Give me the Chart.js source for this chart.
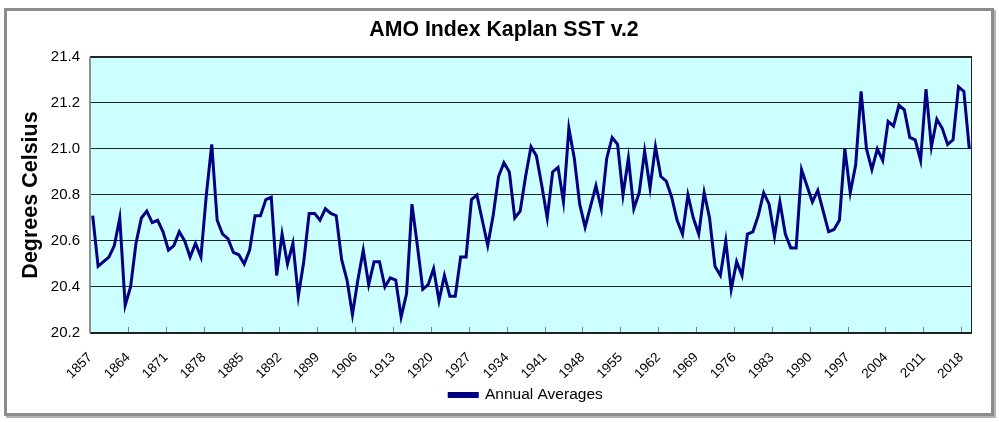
<!DOCTYPE html>
<html>
<head>
<meta charset="utf-8">
<title>AMO Index Kaplan SST v.2</title>
<script src="https://cdn.jsdelivr.net/npm/chart.js@4.4.1/dist/chart.umd.min.js"></script>
<style>
  html, body { margin: 0; padding: 0; background: #fff; }
  #frame {
    position: absolute; left: 4px; top: 8px; width: 984px; height: 402px;
    border: 3px solid #8c8c8c; box-shadow: 2px 2px 0 #b4b4b4; background: #fff;
  }
  #amoCanvas { position: absolute; left: 0; top: 0; }
</style>
</head>
<body>
<div id="frame"></div>
<canvas id="amoCanvas" width="999" height="422"></canvas>
<script>
// Annual averages, one value per year starting 1857
const firstYear = 1857;
const amoAnnual = [
  20.71, 20.49, 20.51, 20.53, 20.58, 20.70, 20.32, 20.40, 20.59, 20.70,
  20.73, 20.68, 20.69, 20.64, 20.56, 20.58, 20.64, 20.60, 20.53, 20.59,
  20.53, 20.80, 21.02, 20.69, 20.63, 20.61, 20.55, 20.54, 20.50, 20.56,
  20.71, 20.71, 20.78, 20.79, 20.45, 20.63, 20.50, 20.59, 20.36, 20.51,
  20.72, 20.72, 20.69, 20.74, 20.72, 20.71, 20.52, 20.43, 20.28, 20.43,
  20.56, 20.41, 20.51, 20.51, 20.40, 20.44, 20.43, 20.27, 20.37, 20.76,
  20.58, 20.39, 20.41, 20.48, 20.34, 20.45, 20.36, 20.36, 20.53, 20.53,
  20.78, 20.80, 20.69, 20.58, 20.71, 20.88, 20.94, 20.90, 20.70, 20.73,
  20.88, 21.01, 20.97, 20.84, 20.70, 20.90, 20.92, 20.77, 21.09, 20.96,
  20.76, 20.66, 20.75, 20.84, 20.74, 20.96, 21.05, 21.02, 20.80, 20.96,
  20.74, 20.81, 20.99, 20.83, 21.01, 20.88, 20.86, 20.79, 20.69, 20.63,
  20.80, 20.70, 20.63, 20.81, 20.70, 20.49, 20.45, 20.60, 20.39, 20.51,
  20.45, 20.63, 20.64, 20.71, 20.81, 20.76, 20.62, 20.77, 20.63, 20.57,
  20.57, 20.91, 20.84, 20.77, 20.82, 20.73, 20.64, 20.65, 20.69, 21.00,
  20.81, 20.93, 21.25, 21.00, 20.91, 21.00, 20.95, 21.12, 21.10, 21.19,
  21.17, 21.05, 21.04, 20.95, 21.26, 21.01, 21.13, 21.09, 21.02, 21.04,
  21.27, 21.25, 21.00
];
const years = amoAnnual.map((v, i) => String(firstYear + i));
const yTicks = [20.2, 20.4, 20.6, 20.8, 21.0, 21.2, 21.4];
const labelEvery = 7;

const fontFamily = '"Liberation Sans", Arial, sans-serif';

// cyan plot background, plot border and the small inward tick marks
const plotFrame = {
  id: 'plotFrame',
  afterLayout(chart) {
    // title and legend are centred on the plot, not on the whole canvas
    const a = chart.chartArea;
    const shift = (box, centre) => {
      const dx = centre - (box.left + box.right) / 2;
      box.left += dx;
      box.right += dx;
    };
    shift(chart.titleBlock, 504);
    shift(chart.legend, (a.left + a.right) / 2 - 5);
  },
  beforeDraw(chart) {
    const a = chart.chartArea;
    const ctx = chart.ctx;
    ctx.save();
    ctx.fillStyle = '#ccffff';
    ctx.fillRect(a.left, a.top, a.right - a.left, a.bottom - a.top);
    ctx.restore();
  },
  beforeDatasetsDraw(chart) {
    const a = chart.chartArea;
    const ctx = chart.ctx;
    const x = chart.scales.x;
    const half = (x.getPixelForValue(1) - x.getPixelForValue(0)) / 2;
    ctx.save();
    ctx.strokeStyle = '#808080';
    ctx.lineWidth = 1;
    for (let i = labelEvery; i < years.length; i += labelEvery) {
      const px = Math.round(x.getPixelForValue(i) - half) + 0.5;
      ctx.beginPath();
      ctx.moveTo(px, a.bottom - 6);
      ctx.lineTo(px, a.bottom);
      ctx.stroke();
    }
    ctx.strokeStyle = '#222';
    ctx.strokeRect(a.left + 0.5, a.top + 0.5, a.right - a.left - 1, a.bottom - a.top - 1);
    ctx.strokeStyle = '#909090';
    ctx.lineWidth = 2;
    ctx.beginPath();
    ctx.moveTo(a.left, a.top);
    ctx.lineTo(a.left, a.bottom);
    ctx.stroke();
    ctx.restore();
  }
};

new Chart(document.getElementById('amoCanvas').getContext('2d'), {
  type: 'line',
  data: {
    labels: years,
    datasets: [{
      label: 'Annual Averages',
      data: amoAnnual,
      borderColor: '#000080',
      backgroundColor: '#000080',
      borderWidth: 3,
      pointRadius: 0,
      tension: 0
    }]
  },
  options: {
    responsive: false,
    animation: false,
    layout: { padding: { left: 0, right: 27, top: 0, bottom: 9.25 } },
    plugins: {
      title: {
        display: true,
        text: 'AMO Index Kaplan SST v.2',
        color: '#000',
        font: { family: fontFamily, size: 21.3, weight: 'bold' },
        padding: { top: 17.3, bottom: 14.1 }
      },
      legend: {
        position: 'bottom',
        labels: {
          color: '#000',
          font: { family: fontFamily, size: 15.5 },
          boxWidth: 28,
          boxHeight: 3,
          padding: 4
        }
      },
      tooltip: { enabled: false }
    },
    scales: {
      x: {
        type: 'category',
        offset: true,
        grid: { display: false },
        border: { display: false },
        afterFit(scale) { scale.height = 50.25; },
        ticks: {
          autoSkip: false,
          minRotation: 45,
          maxRotation: 45,
          padding: 8.5,
          labelOffset: -2.5,
          color: '#000',
          font: { family: fontFamily, size: 13.5 },
          callback(value, index) {
            return index % labelEvery === 0 ? years[index] : '';
          }
        }
      },
      y: {
        min: 20.2,
        max: 21.4,
        afterFit(scale) { scale.width = 90; },
        afterBuildTicks(scale) {
          scale.ticks = yTicks.map(v => ({ value: v }));
        },
        grid: { color: '#222', lineWidth: 1, drawTicks: false },
        border: { display: false },
        ticks: {
          padding: 10,
          color: '#000',
          font: { family: fontFamily, size: 15 },
          callback(value) { return Number(value).toFixed(1); }
        },
        title: {
          display: true,
          text: 'Degrees Celsius',
          color: '#000',
          font: { family: fontFamily, size: 21.5, weight: 'bold' },
          padding: { top: 18, bottom: 0 }
        }
      }
    }
  },
  plugins: [plotFrame]
});
</script>
</body>
</html>
